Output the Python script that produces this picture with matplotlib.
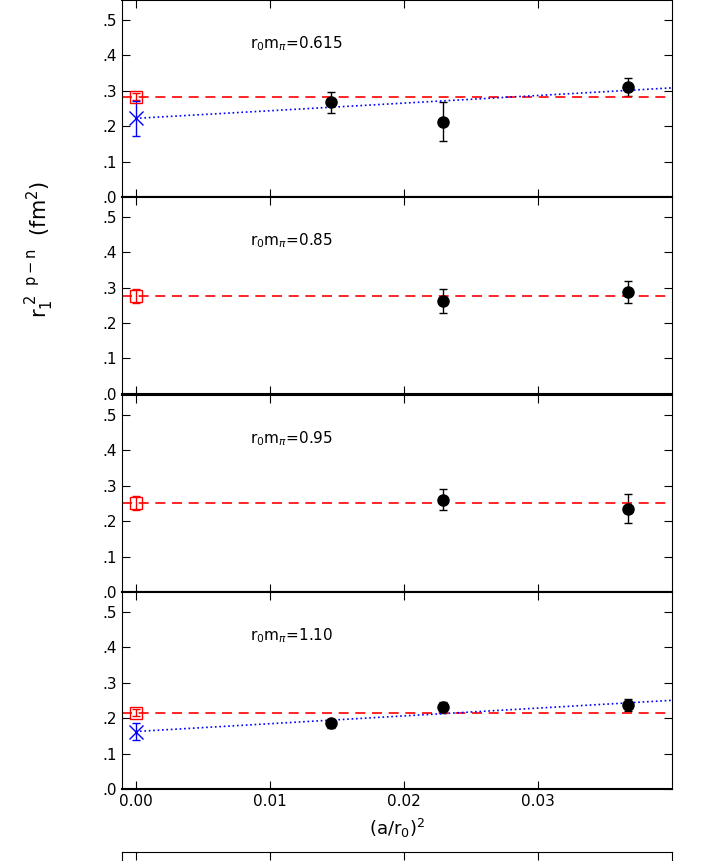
import numpy as np
import matplotlib.pyplot as plt

x_data = [0.0146, 0.0229, 0.0367]
labels = ["0.615", "0.85", "0.95", "1.10"]
y_vals = [[0.267, 0.212, 0.310], [None, 0.262, 0.287], [None, 0.260, 0.235], [0.185, 0.230, 0.238]]
y_errs = [[0.030, 0.055, 0.025], [None, 0.035, 0.030], [None, 0.030, 0.040], [0.012, 0.015, 0.017]]
red_val = [0.283, 0.275, 0.250, 0.215]
red_err = [0.010, 0.020, 0.020, 0.010]
blue_val = [0.222, None, None, 0.162]
blue_err = [0.050, None, None, 0.025]
blue_end = [0.308, None, None, 0.250]

fig = plt.figure(figsize=(7.1, 8.61), dpi=100)
left, width, h = 0.172, 0.775, 0.2288
bottoms = [0.771, 0.5424, 0.3124, 0.0836]

for i in range(4):
    ax = fig.add_axes([left, bottoms[i], width, h])
    ax.set_xlim(-0.001, 0.04)
    ax.set_ylim(0, 0.555)
    xs = [x for x, y in zip(x_data, y_vals[i]) if y is not None]
    ys = [y for y in y_vals[i] if y is not None]
    es = [e for e in y_errs[i] if e is not None]
    ax.errorbar(xs, ys, yerr=es, fmt='o', color='black', ms=8, capsize=3, lw=1)
    ax.axhline(red_val[i], color='red', ls=(0, (6, 4)), lw=1.2)
    ax.errorbar([0], [red_val[i]], yerr=[red_err[i]], fmt='s', mfc='none', mec='red',
                color='red', ms=8, capsize=3, lw=1)
    if blue_val[i] is not None:
        ax.plot([0, 0.04], [blue_val[i], blue_end[i]], color='blue', ls=':', lw=1.2)
        ax.errorbar([0], [blue_val[i]], yerr=[blue_err[i]], fmt='x', color='blue',
                    ms=10, capsize=3, lw=1)
    ax.text(0.0085, 0.42, r"r$_0$m$_\pi$=" + labels[i], fontsize=11)
    ax.set_yticks([0, 0.1, 0.2, 0.3, 0.4, 0.5])
    ax.set_yticklabels([".0", ".1", ".2", ".3", ".4", ".5"], fontsize=11)
    ax.set_xticks([0, 0.01, 0.02, 0.03])
    ax.tick_params(direction='in', top=True, right=True, length=6)
    for s in ['top', 'bottom']:
        ax.spines[s].set_linewidth(1.5)
    if i < 3:
        ax.set_xticklabels([])
    else:
        ax.set_xticklabels(["0.00", "0.01", "0.02", "0.03"], fontsize=11)
        ax.set_xlabel(r"(a/r$_0$)$^2$", fontsize=13, labelpad=6)

# next panel of the original page, cut off at the bottom
ax5 = fig.add_axes([left, -0.2, width, 0.2105])
ax5.set_xlim(-0.001, 0.04)
ax5.set_xticks([0, 0.01, 0.02, 0.03])
ax5.set_xticklabels([])
ax5.set_yticks([])
ax5.tick_params(direction='in', top=True, length=6)

fig.text(0.055, 0.71, r"r$_1^{\ 2\ \ \mathrm{p-n}}$  (fm$^2$)", rotation=90,
         fontsize=15, ha='center', va='center')

fig.savefig("out.png", dpi=100)
